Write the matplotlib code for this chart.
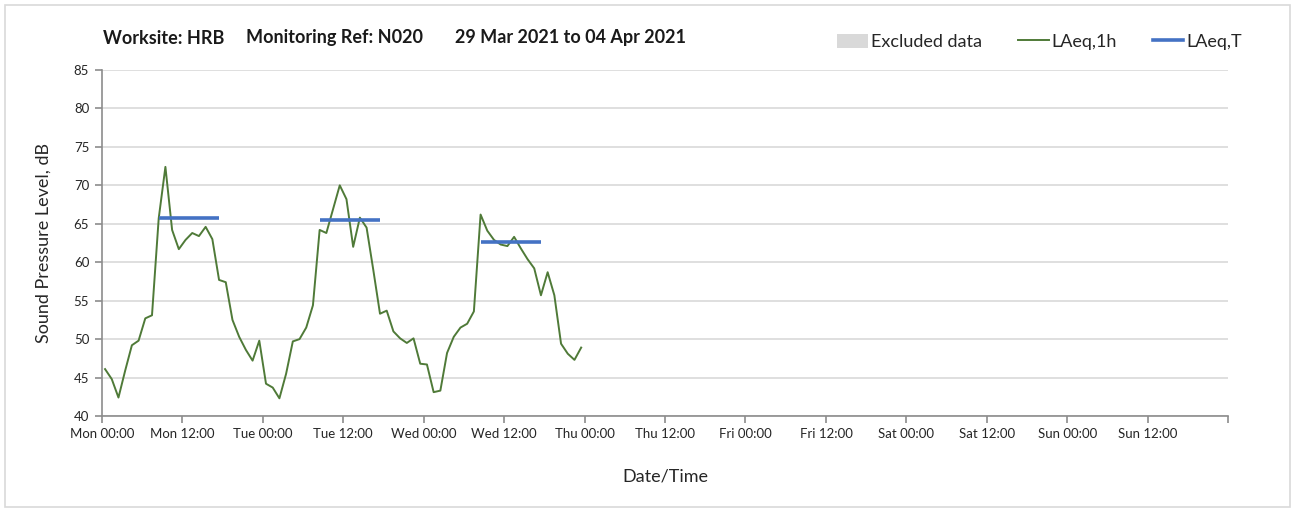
#!/usr/bin/env python3

import matplotlib
matplotlib.use("Agg")
import matplotlib.pyplot as plt
import matplotlib.dates as mdates
from matplotlib.patches import Patch, Rectangle
from matplotlib.lines import Line2D
import pandas as pd

# hourly LAeq,1h values from Mon 29 Mar 2021 00:00 (one per hour, plotted mid-hour)
laeq_1h = [
    46.1, 44.8, 42.4, 45.9, 49.2, 49.8, 52.7, 53.1, 65.7, 72.4, 64.2, 61.7,
    62.9, 63.8, 63.4, 64.6, 63.0, 57.7, 57.4, 52.5, 50.3, 48.6, 47.2, 49.8,
    44.2, 43.7, 42.3, 45.5, 49.7, 50.0, 51.5, 54.4, 64.2, 63.8, 66.9, 70.0,
    68.2, 62.0, 65.8, 64.5, 59.0, 53.3, 53.7, 51.0, 50.1, 49.5, 50.1, 46.8,
    46.7, 43.1, 43.3, 48.2, 50.3, 51.5, 52.0, 53.6, 66.2, 64.1, 62.9, 62.3,
    62.1, 63.3, 61.8, 60.4, 59.2, 55.7, 58.7, 55.7, 49.4, 48.1, 47.3, 48.9,
]

# LAeq,T for each day period (start hour index, end hour index, level)
laeq_t_start = [8, 32, 56]
laeq_t_end = [17, 41, 65]
laeq_t_value = [65.7, 65.5, 62.6]

excluded_periods = []  # none in this week

start = pd.Timestamp("2021-03-29 00:00")
end = pd.Timestamp("2021-04-05 00:00")
times = pd.date_range(start + pd.Timedelta(minutes=30), periods=len(laeq_1h), freq="h")

plt.rcParams["font.family"] = ["Lato", "DejaVu Sans"]

fig = plt.figure(figsize=(12.95, 5.12), dpi=100)
ax = fig.add_axes([101.7 / 1295, 1 - 416 / 512, (1228.3 - 101.7) / 1295, (416 - 70) / 512])

# light frame round the whole picture
fig.patches.append(Rectangle((5 / 1295, 5 / 512), 1285 / 1295, 502 / 512,
                             transform=fig.transFigure, fill=False,
                             edgecolor="#d9d9d9", lw=1.2))

for s, e in excluded_periods:
    ax.axvspan(s, e, color="#d9d9d9", zorder=0)

ax.plot(times, laeq_1h, color="#4f7a38", lw=1.4, zorder=3)
for s, e, v in zip(laeq_t_start, laeq_t_end, laeq_t_value):
    ax.plot([times[s], times[e]], [v, v], color="#4472c4", lw=2.6, zorder=4,
            solid_capstyle="butt")

ax.set_xlim(start, end)
ax.set_ylim(40, 85)
ax.set_yticks(range(40, 86, 5))

ticks = pd.date_range(start, end, freq="12h")
labels = [t.strftime("%a %H:%M") for t in ticks]
labels[-1] = ""
ax.set_xticks(ticks)
ax.set_xticklabels(labels)
ax.xaxis.set_minor_locator(mdates.DayLocator())
ax.tick_params(axis="x", which="minor", length=0)

ax.grid(axis="y", which="major", color="#d9d9d9", lw=1.2)
ax.grid(axis="x", which="minor", color="#d9d9d9", lw=1.2)
ax.set_axisbelow(True)

for side in ["top", "right"]:
    ax.spines[side].set_visible(False)
for side in ["left", "bottom"]:
    ax.spines[side].set_color("#8c8c8c")
    ax.spines[side].set_linewidth(1.2)
ax.tick_params(which="major", length=5, width=1.2, color="#8c8c8c",
               labelsize=9.5, labelcolor="#262626", pad=4)

ax.set_xlabel("Date/Time", fontsize=13, color="#262626", labelpad=20)
ax.set_ylabel("Sound Pressure Level, dB", fontsize=13, color="#262626", labelpad=16)

fig.text(103 / 1295, 1 - 38 / 512, "Worksite: HRB", fontsize=13, fontweight="bold",
         va="center", color="#1a1a1a")
fig.text(246 / 1295, 1 - 38 / 512, "Monitoring Ref: N020", fontsize=13, fontweight="bold",
         va="center", color="#1a1a1a")
fig.text(455 / 1295, 1 - 38 / 512, "29 Mar 2021 to 04 Apr 2021", fontsize=13,
         fontweight="bold", va="center", color="#1a1a1a")

handles = [
    Patch(facecolor="#d9d9d9", edgecolor="none"),
    Line2D([], [], color="#4f7a38", lw=1.4),
    Line2D([], [], color="#4472c4", lw=2.6),
]
fig.legend(handles, ["Excluded data", "LAeq,1h", "LAeq,T"], ncol=3,
           loc="center right", bbox_to_anchor=(1258 / 1295, 1 - 42 / 512),
           frameon=False, fontsize=13, handlelength=1.7, handleheight=0.8,
           handletextpad=0.15, columnspacing=2.0, labelcolor="#262626")

fig.savefig("out.png", dpi=100)
